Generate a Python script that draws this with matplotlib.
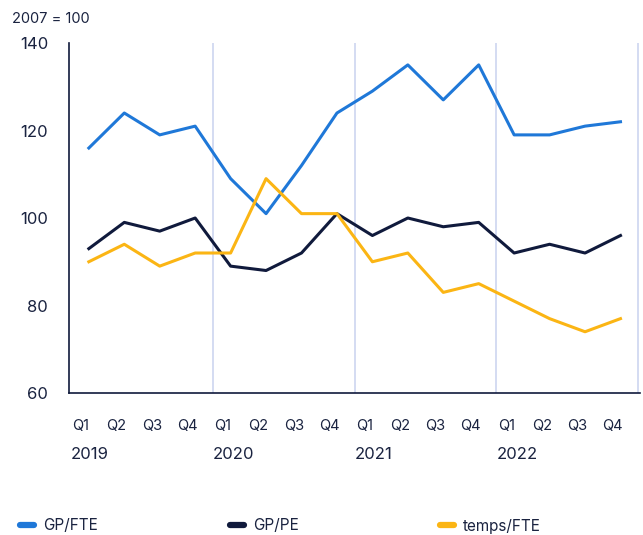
import numpy as np
import matplotlib.pyplot as plt
from matplotlib.lines import Line2D

plt.rcParams['font.family'] = ['Inter', 'DejaVu Sans']

# Data (index, 2007 = 100)
quarters = ["Q1", "Q2", "Q3", "Q4"] * 4
years = ["2019", "2020", "2021", "2022"]
series_names = ["GP/FTE", "GP/PE", "temps/FTE"]
gp_fte = [116, 124, 119, 121, 109, 101, 112, 124, 129, 135, 127, 135, 119, 119, 121, 122]
gp_pe = [93, 99, 97, 100, 89, 88, 92, 101, 96, 100, 98, 99, 92, 94, 92, 96]
temps_fte = [90, 94, 89, 92, 92, 109, 101, 101, 90, 92, 83, 85, 81, 77, 74, 77]

blue = "#1f78d8"
navy = "#101a3c"
yellow = "#fbb514"
grid = "#cdd6f0"
text_col = "#1a2340"
colors = [blue, navy, yellow]

fig = plt.figure(figsize=(6.43, 5.35), dpi=100)
ax = fig.add_axes([0.1073, 0.2654, 0.888, 0.6542])

x = np.arange(len(gp_fte))
for sep in [3.5, 7.5, 11.5, 15.5]:
    ax.axvline(sep, color=grid, lw=1.2, zorder=0)

for vals, c in zip([gp_fte, gp_pe, temps_fte], colors):
    ax.plot(x, vals, color=c, lw=2.2)

ax.set_xlim(-0.56, 15.55)
ax.set_ylim(60, 140)
ax.set_yticks([60, 80, 100, 120, 140])
ax.tick_params(axis='y', length=0, pad=15, labelsize=12, labelcolor=text_col)
# quarter labels sit a little left of the data points
ax.set_xticks(x - 0.22)
ax.set_xticklabels(quarters)
ax.tick_params(axis='x', length=0, pad=19, labelsize=10.5, labelcolor=text_col)

for s in ["top", "right"]:
    ax.spines[s].set_visible(False)
for s in ["left", "bottom"]:
    ax.spines[s].set_color(navy)
    ax.spines[s].set_linewidth(1.2)

for i, yr in enumerate(years):
    ax.text(i * 4 - 0.5, -0.175, yr, transform=ax.get_xaxis_transform(),
            ha='left', va='center', fontsize=12, color=text_col)

fig.text(0.019, 0.965, "2007 = 100", fontsize=10.5, color=text_col, va='center')

for name, c, lx in zip(series_names, colors, [20, 230, 440]):
    h = Line2D([], [], color=c, lw=4.5, solid_capstyle='round')
    leg = fig.legend([h], [name], loc='center left',
                     bbox_to_anchor=(lx / 643, 1 - 526 / 535), frameon=False,
                     borderpad=0, borderaxespad=0, handlelength=0.9,
                     handletextpad=0.6, fontsize=11, labelcolor=text_col)

fig.savefig("out.png", dpi=100)
